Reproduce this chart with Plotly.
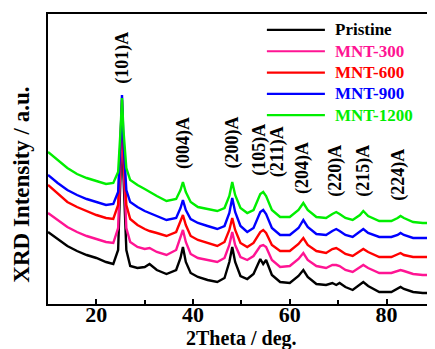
import plotly.graph_objects as go

# 2Theta grid (deg.)
two_theta = [10, 12, 14, 16, 18, 20, 22, 23.5, 24.5, 25.0, 25.3, 25.6, 26.2, 27, 28.5, 30, 31, 32.5, 34.5, 36.5,
             37.4, 37.9, 38.5, 39.5, 41, 43, 45, 46.5, 47.5, 48.1, 48.7, 49.8, 51.2, 52.5, 53.9, 54.5, 55.1, 56.3, 58, 60,
             61.8, 62.8, 63.7, 65.5, 67.5, 68.8, 69.6, 70.3, 71.5, 73, 74.5, 75.2, 76.2, 78.5, 81, 82.3, 82.9, 83.6, 85.5, 87.5,
             89.2]

# Intensities (a.u., stacked offsets as in the figure)
pristine = [72, 65, 58, 53, 49, 46, 42, 40, 54, 129, 189, 129, 54, 38, 36, 37, 40, 34, 30, 34,
            46, 57, 42, 31, 27, 24, 22, 26, 42, 57, 42, 28, 25, 30, 45, 40, 44, 29, 22, 21,
            28, 34, 27, 20, 19, 21, 19, 21, 17, 14, 19, 22, 18, 12, 12, 15, 17, 15, 12, 11,
            11]
mnt300 = [91, 84, 77, 72, 68, 65, 62, 61, 76, 144, 196, 144, 76, 62, 57, 55, 56, 52, 49, 54,
          66, 74, 62, 50, 46, 44, 42, 46, 59, 72, 59, 47, 44, 48, 58, 59, 57, 44, 37, 38,
          45, 51, 44, 38, 36, 39, 39, 38, 34, 32, 37, 39, 36, 31, 31, 33, 34, 33, 30, 29,
          29]
mnt600 = [119, 110, 102, 97, 93, 89, 86, 85, 99, 154, 204, 154, 99, 85, 79, 75, 73, 71, 68, 72,
          82, 89, 79, 68, 64, 61, 58, 62, 74, 86, 74, 61, 57, 61, 72, 74, 71, 59, 53, 53,
          60, 66, 59, 53, 51, 55, 56, 54, 50, 48, 53, 55, 52, 47, 47, 50, 51, 49, 47, 47,
          47]
mnt900 = [129, 121, 114, 109, 105, 102, 99, 100, 112, 164, 209, 164, 114, 102, 97, 93, 91, 88, 84, 86,
          96, 104, 94, 85, 81, 78, 75, 78, 91, 106, 92, 78, 72, 76, 92, 94, 90, 76, 69, 69,
          76, 84, 77, 70, 69, 73, 75, 73, 69, 67, 72, 75, 71, 67, 67, 69, 71, 69, 66, 66,
          66]
mnt1200 = [152, 144, 136, 130, 126, 123, 120, 121, 132, 174, 206, 174, 136, 124, 119, 115, 112, 108, 103, 105,
           114, 122, 112, 102, 97, 95, 93, 96, 108, 122, 109, 96, 91, 94, 110, 112, 108, 94, 87, 87,
           94, 101, 94, 87, 86, 90, 92, 90, 86, 84, 89, 93, 88, 83, 83, 86, 88, 86, 82, 81,
           81]

series_names = ["Pristine", "MNT-300", "MNT-600", "MNT-900", "MNT-1200"]
series_values = [pristine, mnt300, mnt600, mnt900, mnt1200]
series_colors = ["#000000", "#FF1493", "#FF0000", "#0000FF", "#00EE00"]

# Peak annotations (anatase)
peak_labels = ["(101)A", "(004)A", "(200)A", "(105)A", "(211)A", "(204)A", "(220)A", "(215)A", "(224)A"]
peak_x = [25.25, 37.9, 48.15, 53.6, 57.4, 62.5, 69.3, 75.1, 82.3]
peak_y = [246, 161, 162, 154, 152, 136, 133, 133, 129]

FONT = "Liberation Serif"

fig = go.Figure()
for name, vals, col in zip(series_names, series_values, series_colors):
    fig.add_trace(go.Scatter(x=two_theta, y=vals, mode="lines", name=name,
                             line=dict(color=col, width=2.4), showlegend=False))

# peak labels
for t, x, y in zip(peak_labels, peak_x, peak_y):
    fig.add_annotation(x=x, y=y, xref="x", yref="y", text=t, textangle=-90, showarrow=False,
                       font=dict(family=FONT, size=18, color="black", weight="bold"),
                       xanchor="center", yanchor="middle")

# custom legend (long line samples)
leg_x0, leg_x1, leg_tx = 0.5715, 0.723, 0.745
leg_y0, leg_dy = 0.945, 0.0735
for i, (name, col) in enumerate(zip(series_names, series_colors)):
    yy = leg_y0 - i * leg_dy
    fig.add_shape(type="line", xref="paper", yref="paper", x0=leg_x0, x1=leg_x1, y0=yy, y1=yy,
                  line=dict(color=col, width=2.2))
    fig.add_annotation(xref="paper", yref="paper", x=leg_tx, y=yy, text=name, showarrow=False,
                       xanchor="left", yanchor="middle",
                       font=dict(family=FONT, size=17, color=col, weight="bold"))

# axis titles as annotations
fig.add_annotation(xref="paper", yref="paper", x=-0.069, y=0.41, text="XRD Intensity / a.u.",
                   textangle=-90, showarrow=False, xanchor="center", yanchor="middle",
                   font=dict(family=FONT, size=23, color="black", weight="bold"))
fig.add_annotation(xref="paper", yref="paper", x=0.505, y=-0.118, text="2Theta / deg.",
                   showarrow=False, xanchor="center", yanchor="middle", borderpad=0,
                   font=dict(family=FONT, size=20, color="black", weight="bold"))

# page body has an 8px margin: figure size/margins compensate so the plot area
# lands at x 48..431, y 14..304 in the 435x349 window
fig.update_layout(
    width=427, height=341,
    margin=dict(l=40, r=4, t=6, b=45, autoexpand=False),
    paper_bgcolor="white", plot_bgcolor="white",
    font=dict(family=FONT, color="black"),
    xaxis=dict(range=[10, 89.2], showline=True, linecolor="black", linewidth=1.6, mirror=True,
               ticks="inside", ticklen=5, tickwidth=1.5, tickcolor="black", tick0=0, dtick=20,
               minor=dict(dtick=10, tick0=0, ticks="inside", ticklen=4, tickwidth=1.5, tickcolor="black"),
               showgrid=False, zeroline=False, automargin=False, ticklabelstandoff=-10,
               tickfont=dict(family=FONT, size=22, color="black", weight="bold")),
    yaxis=dict(range=[0, 290], showline=True, linecolor="black", linewidth=1.6, mirror=True,
               ticks="", showticklabels=False, showgrid=False, zeroline=False, automargin=False),
)

fig.write_html("out.html")
